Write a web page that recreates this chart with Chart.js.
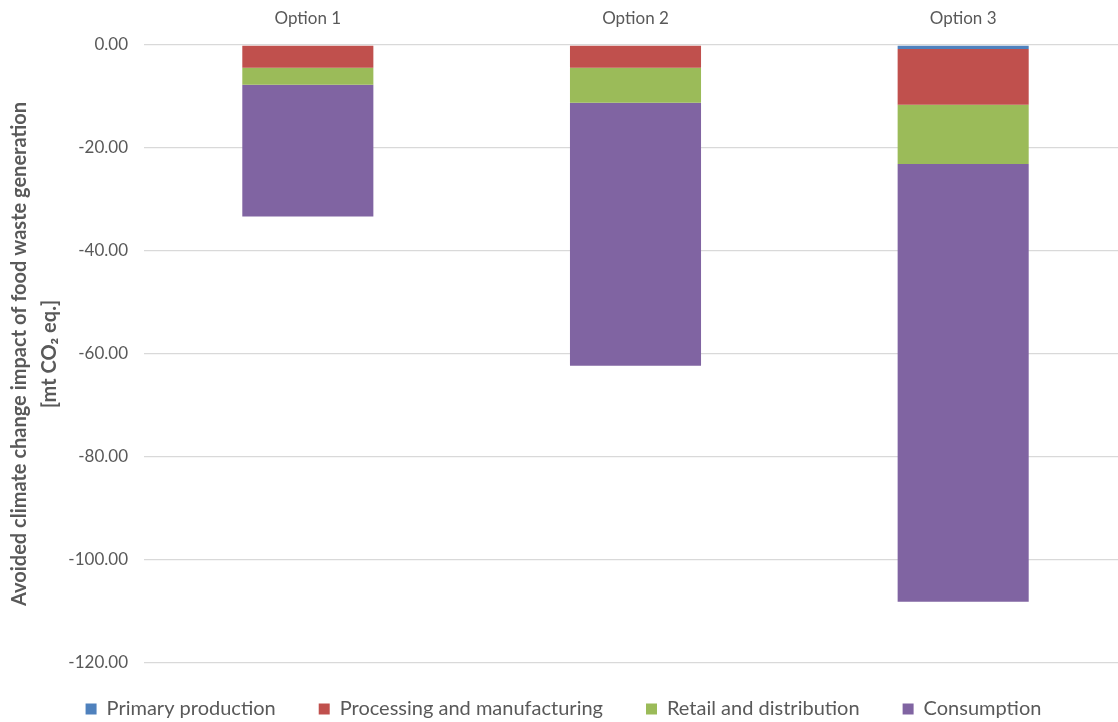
<!DOCTYPE html>
<html><head><meta charset="utf-8">
<script src="https://cdn.jsdelivr.net/npm/chart.js@4.4.0/dist/chart.umd.min.js"></script>
<style>html,body{margin:0;padding:0;overflow:hidden;background:#fff}#wrap{width:1127px;height:722px}</style>
</head><body><div id="wrap"><canvas id="c"></canvas></div>
<script>
const categories = ["Option 1", "Option 2", "Option 3"];
const primaryProduction = [0, 0, -0.8];
const processingManufacturing = [-4.4, -4.4, -10.8];
const retailDistribution = [-3.3, -6.8, -11.5];
const consumption = [-25.6, -51.1, -85.0];
const yTicks = [0, -20, -40, -60, -80, -100, -120];

const FONT = "'Lato','DejaVu Sans Condensed',sans-serif";
const mk = (label, data, color) => ({label, data, backgroundColor: color, borderWidth: 0, barPercentage: 0.4, categoryPercentage: 1.0});

const legendFix = {
  id: 'legendFix',
  beforeLayout(chart) {
    const lg = chart.legend;
    if (lg && !lg._patched) {
      const orig = lg.fit.bind(lg);
      lg.fit = function() { orig(); this.height = 59; this.minSize && (this.minSize.height = 59); };
      lg._patched = true;
    }
  },
  afterLayout(chart) {
    const lg = chart.legend;
    if (lg) { lg.top -= 7; }
  }
};

new Chart(document.getElementById('c'), {
  type: 'bar',
  data: {
    labels: categories,
    datasets: [
      mk('Primary production', primaryProduction, '#4F81BD'),
      mk('Processing and manufacturing', processingManufacturing, '#C0504D'),
      mk('Retail and distribution', retailDistribution, '#9BBB59'),
      mk('Consumption', consumption, '#8064A2')
    ]
  },
  plugins: [legendFix],
  options: {
    responsive: true, maintainAspectRatio: false, animation: false,
    layout: {padding: {top: 0, right: 0, bottom: 0, left: 0}},
    plugins: {
      tooltip: {enabled: false},
      legend: {
        position: 'bottom',
        labels: {boxWidth: 11, boxHeight: 11, padding: 43, color: '#595959', font: {family: FONT, size: 20}}
      }
    },
    scales: {
      x: {
        position: 'top', stacked: true,
        grid: {display: false, drawTicks: false},
        border: {display: false},
        ticks: {color: '#595959', font: {family: FONT, size: 17}, padding: 16},
        afterFit: s => { s.height = 45; }
      },
      y: {
        stacked: true, min: -120, max: 0,
        afterBuildTicks: s => { s.ticks = yTicks.map(v => ({value: v})); },
        grid: {color: '#D9D9D9', lineWidth: 1.3, drawTicks: false},
        border: {display: false},
        ticks: {color: '#595959', font: {family: FONT, size: 17}, padding: 16, callback: v => Number(v).toFixed(2)},
        title: {display: true, text: ['Avoided climate change impact of food waste generation', '[mt CO\u2082 eq.]'],
          color: '#595959', font: {family: FONT, size: 20, weight: 'bold', lineHeight: 1.5}, padding: {top: 5, bottom: 4}},
        afterFit: s => { s.width = 144; }
      }
    }
  }
});
</script></body></html>
